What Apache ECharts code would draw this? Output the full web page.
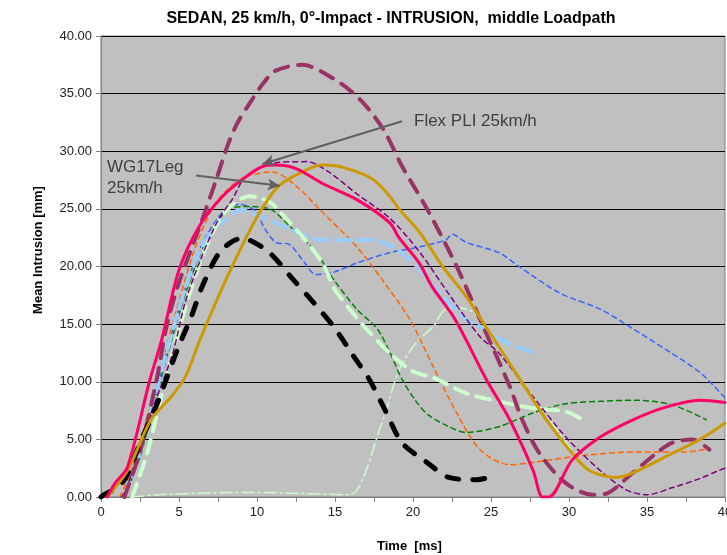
<!DOCTYPE html>
<html>
<head>
<meta charset="utf-8">
<script src="https://cdn.jsdelivr.net/npm/echarts@6/dist/echarts.min.js"></script>
<style>
  html, body { margin: 0; padding: 0; background: #fff; }
  #chart { width: 727px; height: 555px; }
</style>
</head>
<body>
<div id="chart"></div>
<script>
// data: [time ms, mean intrusion mm]
var flexPli = [[0.4,0],[0.9,1.2],[1.7,2.6],[3.1,10],[3.9,13.7],[5,19.7],[6.3,23.5],[7.8,26.1],[9.3,27.8],[10.4,28.7],[11.2,28.8],[12.5,28.5],[14.2,27.2],[16.4,25.8],[18.5,23.8],[19.1,22.5],[20.4,20.3],[21.2,18.3],[22.7,15.4],[24.7,10.2],[26.2,6.7],[27.7,2.3],[28.3,0],[28.7,0],[30.2,3.2],[32,5.2],[34.1,6.7],[36.2,7.8],[38.4,8.4],[40,8.2]];
var wg17Leg = [[0.4,0],[1.7,2.3],[3.2,6.7],[4.5,8.7],[5.4,10.4],[6.3,13.5],[7.4,17],[8.4,20],[10,24.3],[11.4,27],[13.2,28.4],[14.2,28.8],[15.5,28.6],[17.4,27.6],[18.5,26.1],[19.1,25],[20.4,23],[21.9,20],[23.4,17.4],[24.9,14.3],[27,9.9],[28.7,6.4],[30.2,3.8],[31.3,2.3],[33,1.7],[34.1,2.1],[36.2,3.5],[38.4,5],[40,6.4]];
var darkMagenta = [[1.5,0],[2.5,4],[3.6,10.4],[4.2,14.8],[5,18.6],[6.5,24.1],[7.4,27.6],[8.2,30.8],[8.8,32.6],[9.6,34.3],[10.4,35.9],[11.2,37],[12.9,37.5],[14.9,36.3],[16.6,34.5],[18.1,31.9],[19.3,28.7],[20.9,25],[22.8,20],[24.5,14.8],[26.2,9.6],[27,6.7],[28.1,3.8],[29.8,1.2],[31.5,0.2],[32.4,0.3],[34,2],[35.6,3.8],[36.6,4.7],[37.9,5],[39,4.1]];
var purple = [[1.3,0],[1.6,0.6],[3,6.5],[4.6,12.5],[5.4,16.9],[6.5,21],[7.5,24],[8.4,25.8],[9.3,27.8],[11.2,29],[13.2,29.1],[14.6,28.2],[16.4,26.3],[18.5,24.2],[20.4,21.3],[22.3,17.6],[24.3,13.9],[25.5,12.5],[27.7,8.7],[29.8,5.2],[32,2.3],[33.7,0.6],[35,0.2],[36.6,0.8],[38.4,1.6],[39.6,2.3],[40,2.5]];
var orange = [[1.2,0],[2,2.5],[3,7],[4,12],[5,17],[6,21.5],[7.2,25.2],[8.2,26.8],[9.3,27.8],[11,28.2],[12.5,27],[14.2,24.7],[16.4,21.7],[18,18.9],[19.8,15.4],[21.3,11.3],[22.8,7.3],[24.3,4.1],[26.2,2.8],[27.7,3],[30.9,3.6],[34.1,3.9],[37.3,3.9],[39,4.2]];
var blue = [[1.5,0],[2.5,4],[3.5,9],[4.5,14],[5.5,18.5],[6.5,22],[7.8,24.7],[8.9,25.4],[10,24.7],[10.4,23.5],[11.2,22.1],[12.1,21.9],[12.9,20.6],[13.8,19.3],[14.9,19.5],[16.4,20.3],[18.5,21.2],[20.4,21.7],[22.1,22.3],[22.5,22.8],[23.4,22.1],[25.5,21.2],[26.8,20],[29.4,17.7],[32,16.3],[34.1,14.6],[36.2,12.8],[38.4,10.8],[40,8.6]];
var green = [[1.5,0],[2.5,3.5],[3.5,8.5],[4.5,13.5],[5.5,18],[6.5,21.5],[7.3,23.5],[8.2,25],[9.3,25.2],[10.8,25],[12.1,23.5],[13.8,21.2],[14.9,18.9],[16.4,16.3],[17.7,14.6],[18.5,12.6],[19.3,10.2],[20.2,8.3],[21,7.1],[22.3,6.1],[23.4,5.6],[25.5,6.1],[27.7,7.3],[29.8,8.1],[32,8.3],[34.1,8.4],[36.6,8],[38.8,6.7]];
var lightBlue = [[1.5,0],[2.5,4],[3.5,9],[4.5,14],[5.5,18.5],[6.5,21.8],[7.3,23.3],[8,24.1],[8.9,24.9],[10,24.5],[11.7,23.5],[14.2,22.3],[17.4,22.3],[19.8,20.6],[21.7,17.7],[23.4,15.4],[24.3,14.8],[26,13.4],[28,12.4]];
var paleGreen = [[2,0],[3,4],[4,9.5],[5,14.5],[6,19],[7,22.5],[8,24.8],[9.5,26.1],[10.8,25.6],[11.9,24.1],[12.9,22.6],[14.2,20.3],[15,18],[16,16.2],[17,14.6],[18.5,12.5],[20,10.9],[21.4,10.3],[23.4,9],[25.5,8.3],[27.7,7.7],[29.8,7.4],[30.9,6.7]];
var black = [[0,0],[0.2,0.2],[1,0.8],[1.6,1.7],[2.6,5],[3.4,7.4],[4.1,9.9],[4.9,12.8],[5.8,15.7],[6.5,18.3],[7.6,21.2],[8.9,22.4],[9.5,22.3],[10.8,21.2],[12.3,18.9],[13.6,16.9],[14.9,14.8],[16.2,12.2],[17.2,10.2],[18.3,7.3],[19.3,4.7],[20.9,3],[22.3,1.7],[24.1,1.5],[24.9,1.7]];
var paleDashDot = [[2,0],[3.75,0.2],[6.8,0.35],[9.5,0.4],[12.9,0.3],[15.9,0.2],[16.4,0.6],[17,2.3],[17.7,5.2],[18.3,7.6],[19.1,11],[20.2,13.4],[21.3,14.8],[22.1,16.3],[23,16.4],[23.9,16],[24.7,14.5],[26,12],[27,10],[28.3,7.6],[30.3,3.8]];

// annotation arrows: [from, to] in data units
var flexArrow = [[19.3,32.6],[10.35,28.9]];
var wgArrow = [[6.1,27.9],[11.45,27.0]];

var xTicks = [0, 40, 2.5];
var yTicks = [0, 40, 5];

var chart = echarts.init(document.getElementById("chart"));

function line(name, data, color, width, dash, extra) {
  var s = {
    name: name,
    type: "line",
    data: data,
    showSymbol: false,
    smooth: 0.3,
    lineStyle: { color: color, width: width, type: dash, cap: "round" },
    silent: true,
  };
  return Object.assign(s, extra || {});
}

chart.setOption({
  animation: false,
  title: {
    text: "SEDAN, 25 km/h, 0°-Impact - INTRUSION,  middle Loadpath",
    left: 386,
    textAlign: "center",
    top: 6,
    textStyle: { fontFamily: "Liberation Sans", fontSize: 16, fontWeight: "bold", color: "#000" },
  },
  grid: {
    left: 101, right: 2, top: 36, bottom: 58,
    outerBoundsMode: "none",
    containLabel: false,
    show: true, backgroundColor: "#C0C0C0", borderColor: "#808080", borderWidth: 1,
  },
  xAxis: {
    type: "value",
    min: xTicks[0], max: xTicks[1], interval: xTicks[2],
    axisLine: { lineStyle: { color: "#808080" } },
    axisTick: { show: true, length: 5, lineStyle: { color: "#808080" } },
    splitLine: { show: false },
    axisLabel: {
      fontFamily: "Liberation Sans", fontSize: 13, color: "#222", margin: 9,
      formatter: function (v) { return v % 5 === 0 ? String(v) : ""; },
    },
  },
  yAxis: {
    type: "value",
    min: yTicks[0], max: yTicks[1], interval: yTicks[2],
    axisLine: { show: true, lineStyle: { color: "#808080" } },
    axisTick: { show: true, length: 5, lineStyle: { color: "#808080" } },
    splitLine: { lineStyle: { color: "#000", width: 1 } },
    axisLabel: {
      fontFamily: "Liberation Sans", fontSize: 13, color: "#222", margin: 9,
      formatter: function (v) { return v.toFixed(2); },
    },
  },
  graphic: [
    { type: "text", left: 377, top: 540, style: { text: "Time  [ms]", font: "bold 13px Liberation Sans", fill: "#000" } },
    { type: "text", x: 38, y: 250, rotation: Math.PI / 2, style: { text: "Mean Intrusion [mm]", font: "bold 13px Liberation Sans", fill: "#000", align: "center", verticalAlign: "middle" } },
    { type: "text", left: 414, top: 113, style: { text: "Flex PLI 25km/h", font: "17px Liberation Sans", fill: "#404040" } },
    { type: "text", left: 107, top: 157, style: { text: "WG17Leg\n25km/h", font: "17px Liberation Sans", fill: "#404040", lineHeight: 21 } },
  ],
  series: [
    line("dashdot", paleDashDot, "#CCFFCC", 1.5, [12, 4, 2, 4]),
    line("blue", blue, "#3366FF", 1.5, [5, 4]),
    line("green", green, "#008000", 1.5, [5, 4]),
    line("orange", orange, "#FF6600", 1.5, [5, 4]),
    line("lightblue", lightBlue, "#99CCFF", 4, [14, 8]),
    line("palegreen", paleGreen, "#CCFFCC", 4, [14, 9]),
    line("purple", purple, "#800080", 1.5, [5, 4]),
    line("magenta", darkMagenta, "#993366", 4, [14, 10]),
    line("black", black, "#000000", 5, [12, 14]),
    line("WG17Leg", wg17Leg, "#CC9900", 3, "solid"),
    line("Flex PLI", flexPli, "#FF0066", 3, "solid", {
      markLine: {
        silent: true,
        symbol: ["none", "arrow"],
        symbolSize: [9, 12],
        label: { show: false },
        lineStyle: { color: "#606060", width: 2, type: "solid" },
        data: [
          [{ coord: flexArrow[0] }, { coord: flexArrow[1] }],
          [{ coord: wgArrow[0] }, { coord: wgArrow[1] }],
        ],
      },
    }),
  ],
});
</script>
</body>
</html>
